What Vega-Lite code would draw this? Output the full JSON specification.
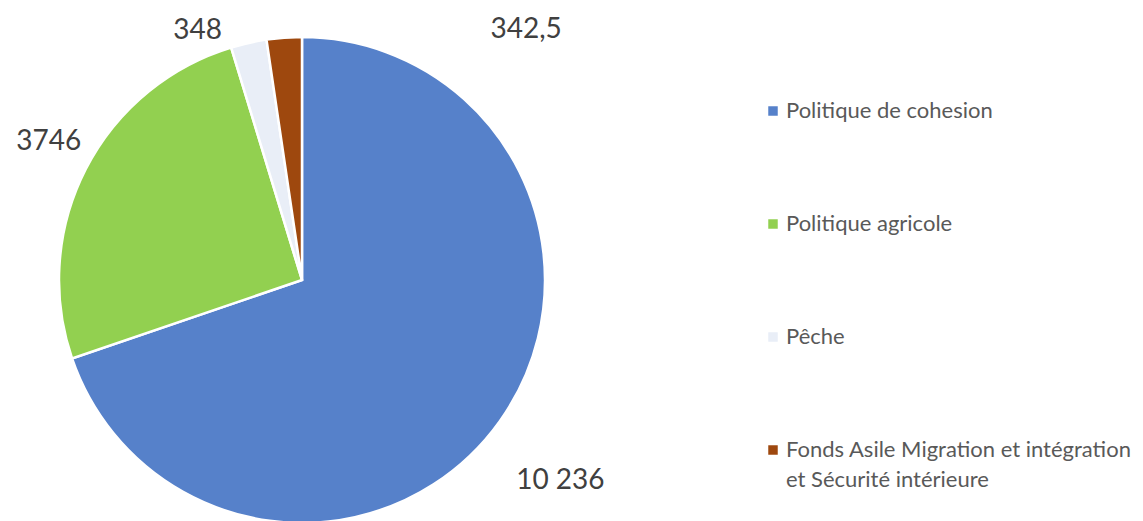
{
  "$schema": "https://vega.github.io/schema/vega-lite/v6.json",
  "width": 604,
  "height": 560,
  "padding": 0,
  "autosize": {"type": "pad"},
  "background": "white",
  "config": {"view": {"stroke": null}, "font": "Lato", "style": {"guide-label": {"lineHeight": 30}}},
  "data": {"values": [
    {"cat": "Politique de cohesion", "value": 10236, "label": "10 236", "ord": 1},
    {"cat": "Politique agricole", "value": 3746, "label": "3746", "ord": 2},
    {"cat": "Pêche", "value": 348, "label": "348", "ord": 3},
    {"cat": "Fonds Asile Migration et intégration et Sécurité intérieure", "value": 342.5, "label": "342,5", "ord": 4}
  ]},
  "transform": [
    {"stack": "value", "groupby": [], "sort": [{"field": "ord", "order": "ascending"}], "as": ["v0", "v1"]},
    {"calculate": "(datum.v0 + datum.v1) / 2", "as": "mid"}
  ],
  "layer": [
    {
      "mark": {"type": "arc", "outerRadius": 243, "stroke": "white", "strokeWidth": 2.5},
      "encoding": {
        "theta": {"field": "value", "type": "quantitative", "stack": true, "scale": {"nice": false, "zero": true}},
        "order": {"field": "ord", "type": "quantitative", "sort": "ascending"},
        "color": {
          "field": "cat", "type": "nominal",
          "scale": {
            "domain": ["Politique de cohesion", "Politique agricole", "Pêche", "Fonds Asile Migration et intégration et Sécurité intérieure"],
            "range": ["#5681CA", "#92D050", "#E9EEF7", "#9E480E"]
          },
          "legend": {
            "title": null,
            "orient": "none",
            "legendX": 762,
            "legendY": 100,
            "direction": "vertical",
            "symbolType": "square",
            "symbolSize": 90,
            "symbolStrokeWidth": 0,
            "labelFont": "Lato",
            "labelFontSize": 22,
            "labelColor": "#595959",
            "labelLimit": 500,
            "labelOffset": 2,
            "rowPadding": 91,
            "labelExpr": "datum.label == 'Fonds Asile Migration et intégration et Sécurité intérieure' ? ['Fonds Asile Migration et intégration', 'et Sécurité intérieure'] : datum.label",
            "encode": {"labels": {"enter": {"lineHeight": {"value": 30}}}}
          }
        }
      }
    },
    {
      "transform": [{"filter": "datum.ord == 1"}],
      "mark": {"type": "text", "radius": 325, "dx": -6, "dy": 12, "fontSize": 28, "color": "#404040", "align": "center", "baseline": "middle"},
      "encoding": {"theta": {"field": "mid", "type": "quantitative", "stack": null}, "text": {"field": "label"}}
    },
    {
      "transform": [{"filter": "datum.ord == 2"}],
      "mark": {"type": "text", "radius": 290, "dx": 5, "dy": -6, "fontSize": 28, "color": "#404040", "align": "center", "baseline": "middle"},
      "encoding": {"theta": {"field": "mid", "type": "quantitative", "stack": null}, "text": {"field": "label"}}
    },
    {
      "transform": [{"filter": "datum.ord == 3"}],
      "mark": {"type": "text", "radius": 255, "dx": -24, "dy": 0, "fontSize": 28, "color": "#404040", "align": "right", "baseline": "middle"},
      "encoding": {"theta": {"field": "mid", "type": "quantitative", "stack": null}, "text": {"field": "label"}}
    },
    {
      "transform": [{"filter": "datum.ord == 4"}],
      "mark": {"type": "text", "radius": 252, "dx": 207, "dy": 1, "fontSize": 28, "color": "#404040", "align": "left", "baseline": "middle"},
      "encoding": {"theta": {"field": "mid", "type": "quantitative", "stack": null}, "text": {"field": "label"}}
    }
  ]
}
